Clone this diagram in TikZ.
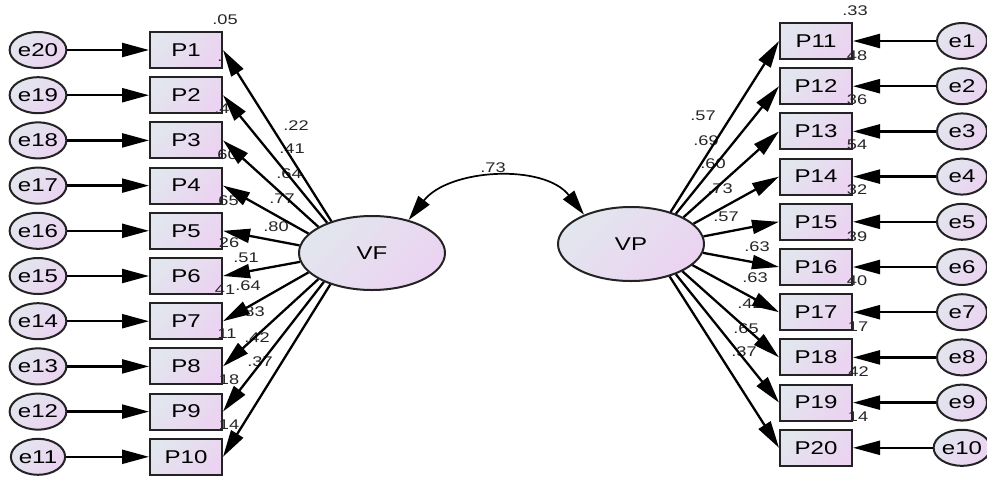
\documentclass[tikz,border=0pt]{standalone}
\usepackage{fontspec}
\setmainfont[FakeStretch=1.3]{Liberation Sans}
\usetikzlibrary{arrows.meta,shapes.geometric}
\definecolor{cA}{RGB}{226,230,238}
\definecolor{cB}{RGB}{235,211,241}
\definecolor{edge}{RGB}{35,35,35}
\begin{document}
\begin{tikzpicture}[x=1pt,y=-1pt,
  obs/.style={draw=edge, line width=2pt, minimum width=72pt, minimum height=36pt, inner sep=0pt,
    top color=cA, bottom color=cB, shading angle=45, font=\fontsize{18.5}{20}\selectfont},
  err/.style={ellipse, draw=edge, line width=2pt, minimum width=50pt, minimum height=36pt, inner sep=0pt,
    top color=cA, bottom color=cB, shading angle=45, font=\fontsize{18.5}{20}\selectfont},
  lat/.style={ellipse, draw=edge, line width=2pt, minimum width=146pt, minimum height=74pt, inner sep=0pt,
    top color=cA, bottom color=cB, shading angle=45, font=\fontsize{18.5}{20}\selectfont},
  arr/.style={line width=2.3pt, -{Triangle[length=27pt,width=14pt]}},
  lab/.style={font=\fontsize{14}{15}\selectfont, inner sep=0pt, text=black!85}]
\fill[white] (0,0) rectangle (987,477);
\useasboundingbox (0,0) rectangle (987,477);

% latent variables
\node[lat] (VF) at (372,253) {VF};
\node[lat] (VP) at (631,244) {VP};

% left observed variables and errors
\foreach \i in {1,...,10}{
  \pgfmathsetmacro{\yy}{50+45.2*(\i-1)}
  \pgfmathtruncatemacro{\j}{21-\i}
  \node[obs] (P\i) at (186,\yy) {P\i};
  \node[err] (e\j) at (38,\yy) {e\j};
}
% right observed variables and errors
\foreach \i in {11,...,20}{
  \pgfmathsetmacro{\yy}{41+45.2*(\i-11)}
  \pgfmathtruncatemacro{\j}{\i-10}
  \node[obs] (P\i) at (816,\yy) {P\i};
  \node[err] (e\j) at (962,\yy) {e\j};
}

% squared multiple correlations (visible parts)
\node[lab] (r1) at (225,20) {.05};
\node[lab] (r2) at (220,61) {.};
\node[lab] (r3) at (222,109) {.4};
\node[lab] (r4) at (225,155) {.60};
\node[lab] (r5) at (226,201) {.65};
\node[lab] (r6) at (229,243) {26};
\node[lab] (r7) at (225,290) {41};
\node[lab] (r8) at (227,334) {11};
\node[lab] (r9) at (229,380) {18};
\node[lab] (r10) at (229,425) {14};

\node[lab] (r11) at (855,11) {.33};
\node[lab] (r12) at (857,56) {48};
\node[lab] (r13) at (857,100) {36};
\node[lab] (r14) at (857,145) {54};
\node[lab] (r15) at (857,190) {32};
\node[lab] (r16) at (857,237) {39};
\node[lab] (r17) at (857,281) {40};
\node[lab] (r18) at (858,327) {17};
\node[lab] (r19) at (856,372) {.42};
\node[lab] (r20) at (858,417) {14};

% loadings left
\node[lab] (l1) at (296,126) {.22};
\node[lab] (l2) at (292,149) {.41};
\node[lab] (l3) at (289,174) {.64};
\node[lab] (l4) at (282,199) {.77};
\node[lab] (l5) at (276,227) {.80};
\node[lab] (l6) at (246,258) {.51};
\node[lab] (l7) at (248,286) {.64};
\node[lab] (l8) at (252,312) {.83};
\node[lab] (l9) at (257,338) {.42};
\node[lab] (l10) at (260,362) {.37};
% loadings right
\node[lab] (l11) at (703,116) {.57};
\node[lab] (l12) at (706,141) {.69};
\node[lab] (l13) at (713,164) {.60};
\node[lab] (l14) at (720,189) {.73};
\node[lab] (l15) at (726,217) {.57};
\node[lab] (l16) at (757,247) {.63};
\node[lab] (l17) at (755,278) {.63};
\node[lab] (l18) at (750,304) {.42};
\node[lab] (l19) at (746,329) {.65};
\node[lab] (l20) at (744,352) {.37};

% correlation
\node[lab] (cor) at (493,168) {.73};
\draw[line width=1.7pt, {Triangle[length=25pt,width=14pt]}-{Triangle[length=25pt,width=14pt]}]
  (VF.42) to[out=52,in=128,looseness=0.95] (VP.148);

% loading arrows
\foreach \i/\a in {1/142,2/146,3/154,4/163,5/174,6/187,7/197,8/206,9/211,10/217}{
  \draw[arr] (VF.\a) -- (P\i.east);
}
\foreach \i/\a in {11/39,12/34,13/27,14/18,15/6,16/-7,17/-19,18/-28,19/-34,20/-40}{
  \draw[arr] (VP.\a) -- (P\i.west);
}
% error arrows
\foreach \i in {1,...,10}{
  \pgfmathtruncatemacro{\j}{21-\i}
  \draw[arr] (e\j.east) -- (P\i.west);
}
\foreach \i in {11,...,20}{
  \pgfmathtruncatemacro{\j}{\i-10}
  \draw[arr] (e\j.west) -- (P\i.east);
}
\end{tikzpicture}
\end{document}
